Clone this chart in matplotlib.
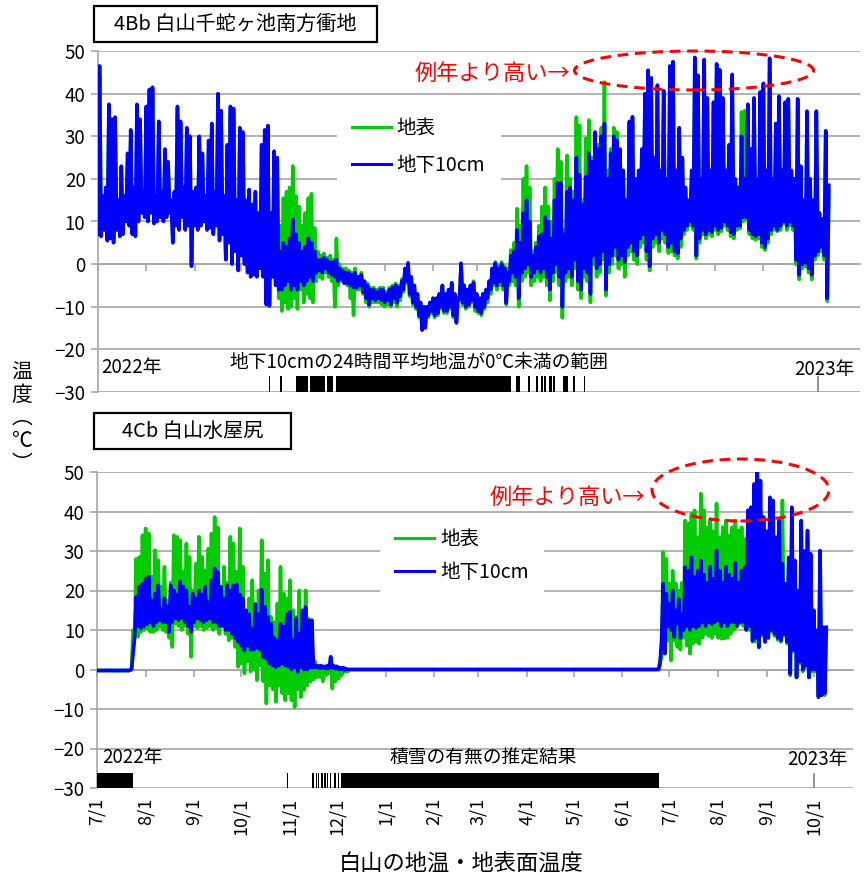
import numpy as np
import matplotlib
matplotlib.use('Agg')
import matplotlib.pyplot as plt
from matplotlib.patches import Ellipse, Rectangle
from matplotlib.lines import Line2D

plt.rcParams['font.family'] = ['Noto Sans CJK JP', 'DejaVu Sans']

W, H = 864, 876
START = np.datetime64('2022-07-01')

# month ticks (x axis, days from 2022-07-01)
month_dates = np.array(['2022-07-01', '2022-08-01', '2022-09-01', '2022-10-01', '2022-11-01',
                        '2022-12-01', '2023-01-01', '2023-02-01', '2023-03-01', '2023-04-01',
                        '2023-05-01', '2023-06-01', '2023-07-01', '2023-08-01', '2023-09-01',
                        '2023-10-01'], dtype='datetime64[D]')
month_labels = ['7/1', '8/1', '9/1', '10/1', '11/1', '12/1', '1/1', '2/1', '3/1', '4/1',
                '5/1', '6/1', '7/1', '8/1', '9/1', '10/1']
yticks = [-30, -20, -10, 0, 10, 20, 30, 40, 50]

# ---- 4Bb: daily low (even day) / high (odd day) pairs, 2-day steps ----
top_sub10_hi = [
    46.5, 16, 18, 37.5, 34, 34.5, 15, 23, 16, 26,
    31.5, 18, 37.5, 34, 17, 37, 41, 41.5, 16, 33.5,
    17, 27, 24, 15, 17, 37, 33.5, 18, 32, 30,
    17, 18, 30, 26, 16, 29, 33, 17, 40, 36,
    16, 28, 37, 36.5, 15, 32, 31, 15, 17.5, 14,
    17, 12, 28, 31.5, 32.5, 12, 26.5, 25, 3, 5,
    4, 6, 10.5, 7, 5, 3, 4, 6, 5, 3,
    1, 1, 1.5, 1, 0.5, 0.5, 1, -1, -1.5, -2,
    -2, -2.5, -2, -3, -2.5, -4, -5, -6, -6, -6.5,
    -6, -6, -7, -6, -5.5, -5, -5.5, -4, -1, 0.3,
    -3, -5, -7, -9, -10, -10, -9, -8, -8, -7,
    -5, -7, -6, -4.4, -7, -8, 0.2, -5, -6, -5,
    -4.4, -7, -8, -7, -6, -4, -1, 0.2, -1, 0,
    -1, -2, 2, 3, 8, 5, 12, 15, 10, 2,
    4, 6.5, 7, 11, 10, 6, 15, 19, 19, 7,
    17, 18, 15, 25, 21, 14, 20.5, 26, 24, 31,
    27, 30, 33, 20, 26, 30, 29, 27, 22, 15,
    33.5, 34.6, 20, 22, 27, 40, 45.5, 43.7, 25, 42,
    22, 40.7, 20, 46.5, 47.5, 22, 32, 25, 18, 15,
    22, 48.5, 44.3, 20, 48, 39, 22, 38, 47, 45.6,
    39, 22, 28, 44.5, 20, 18, 30, 20, 37.5, 27,
    39, 20, 40.4, 42.4, 22, 48.3, 20, 33, 39.4, 22,
    38, 38.8, 22, 20, 38.8, 23, 15, 35.9, 20, 15,
    35.9, 12, 10.6, 31.3, 18.5]
top_sub10_lo = [
    7, 6.5, 8, 5.5, 6, 5, 8, 6.5, 7, 10,
    9, 7, 6.5, 10, 12, 11, 10, 12, 9.5, 10,
    11, 10, 11, 12, 5, 9, 8, 11, 8, 9,
    -0.5, 9, 8, 9, 10, 8, 8.5, 7, 9, 5.5,
    7, 1, 5, 0, 3, -1.5, 2, 0, -2, -3,
    -2.5, -3, -1, -3, -9.5, -9.8, -3, -5, -6, -6,
    -5, -4, -6, -5, -6, -4, -5, -4, -3, -4,
    -2, -1.5, -2, -1, -2, -2.5, -3, -4, -3.5, -4.5,
    -4.5, -5, -5.5, -5.5, -5, -6.5, -8, -9.5, -8, -8.5,
    -8, -8.5, -9, -8.5, -9.5, -8, -9, -7.5, -6, -4,
    -7, -9, -10, -12, -15.5, -15, -12, -11, -12, -11.5,
    -10, -11, -11, -10, -12, -13.8, -8, -9, -10, -9.5,
    -8.5, -10, -11, -11.5, -10, -8, -6, -4.4, -5, -4,
    -5, -9.1, -4, -2, -3, -8, -2, -1, 0, -3,
    -2, -1, -2, -1, -3, -6, -2, 0, -3, -10,
    -2, -1, -3, 1, -4, -6, -1, -2, -7, 2,
    -1, 0, 3, -6, 0, 2, 4, 1, 2, 0.5,
    4, 5, 3, 2, 6, 7, 3, -0.5, 6, 7,
    5, 8, 7, 4, 5, 3, 2.5, 6, 8, 9,
    10, 9, 2, 6, 8, 7, 8, 7.5, 9, 8,
    8.5, 10, 9, 7.5, 7, 9, 9, 11, 11, 8,
    7, 6.5, 7, 5, 4, 6, 8, 9, 8, 9,
    10, 9, 10, 9, 1, -2.5, 0, 0.3, -1, -2.5,
    2, 3, 4, 2, -8]
top_surf_hi = [
    44, 15, 17, 35, 32, 32, 14, 21, 15, 24,
    29, 17, 35, 32, 16, 35, 39, 39, 15, 31,
    16, 25, 22, 14, 16, 35, 31, 17, 30, 28,
    16, 17, 28, 24, 15, 27, 31, 16, 38, 34,
    15, 26, 35, 34, 14, 30, 29, 14, 16, 13,
    15, 11, 26, 29, 30, 11, 24, 23, 9, 15.5,
    17, 18, 23, 16, 13.5, 9, 12, 15.5, 16.5, 8.5,
    3, 2, 2.5, 1.5, 2, 1, 6, 0, -1, -1,
    -1.5, -2, -1, -3, -2, -4, -4.5, -5.5, -5.5, -6,
    -5.5, -5.5, -6.5, -5.5, -5, -4.5, -5, -3.5, -1.5, 0,
    -3, -5, -7, -9, -10, -10, -9, -8, -8, -7,
    -5, -7, -6, -4.4, -7, -8, 0, -5, -6, -5,
    -4, -7, -8, -7, -6, -4, -1, 0.5, -0.5, 0.5,
    -0.5, -1, 3.3, 5, 13, 9, 20, 23, 18, 3,
    5, 9, 13.5, 18, 13.5, 10, 20, 27, 24, 8,
    25.5, 20, 17, 34.5, 32.5, 15, 29.5, 33.8, 25, 30,
    28, 32, 42.7, 22, 27, 32, 31, 26, 22, 14,
    32, 33, 19, 21, 26, 38, 42, 40, 24, 39,
    21, 38, 19, 44, 45, 21, 30, 24, 17, 14,
    21, 45, 42, 19, 45, 37, 21, 36, 44, 43,
    37, 21, 27, 42, 19, 17, 35.7, 36, 36, 26,
    37, 19, 38, 40, 21, 45, 19, 32, 37, 21,
    36, 37, 21, 19, 37, 22, 14, 34, 19, 14,
    34, 11, 10, 30, 17]
top_surf_lo = [
    8, 7.5, 9, 6.5, 7, 6, 9, 7.5, 8, 11,
    10, 8, 7.5, 11, 13, 12, 11, 13, 10.5, 11,
    12, 11, 12, 13, 6, 10, 9, 12, 9, 10,
    0.5, 10, 9, 10, 11, 9, 9.5, 8, 10, 6.5,
    8, 2, 6, 1, 4, -0.5, 3, 1, -1, -2,
    -1.5, -2, 0, -2, -8.5, -8.8, -2, -4, -8, -11,
    -9, -10.5, -10, -8, -10.5, -6, -9, -7, -8, -9,
    -4, -3, -3.5, -2, -3, -4, -10, -5, -4, -4,
    -5, -8, -12, -6, -6, -7, -9, -10, -9, -9,
    -9, -9.5, -10, -9.5, -10, -9, -10, -8.5, -6.5, -4.5,
    -7.5, -9.5, -10.5, -12.5, -15, -14.5, -12.5, -11.5, -12.5, -12,
    -10.5, -11.5, -11.5, -10.5, -12.5, -13.5, -8.5, -9.5, -10.5, -10,
    -9, -11, -11.5, -12, -10.5, -9, -7, -5, -6, -5,
    -6, -9.5, -5, -4, -5, -10, -4, -3, -2, -5,
    -4, -3, -4, -3, -5, -8.5, -4, -2, -5, -12.6,
    -4, -3, -5, -1, -6, -8, -3, -4, -9, 0,
    -3, -2, 1, -7.4, -2, 0, 2, -1, 0, -3,
    2, 3, 1, 0, 4, 5, 1, -1.5, 4, 5,
    3, 6, 5, 2.6, 3, 2, 1.3, 4, 7, 8,
    9, 8, 1.3, 5, 7, 6, 7, 6.5, 8, 7,
    7.7, 9, 8, 6.5, 6, 8, 8.4, 10, 10.5, 7,
    6, 5.7, 6, 4, 3.3, 5, 7, 8, 7.7, 8,
    9.6, 8, 9, 8, 0, -3.6, -1, -0.5, -2, -3.6,
    1, 2, 3, 1, -8.7]

# ---- 4Cb ----
bot_sub10_hi = [
    -0.2, -0.2, -0.2, -0.2, -0.2, -0.2, -0.2, -0.2, -0.2, -0.2,
    -0.2, 4, 18.4, 21, 21.7, 23, 23.5, 17.5, 19.2, 21.3,
    15, 18, 16, 21.3, 20, 19, 22.2, 21, 20, 15.9,
    19.2, 18, 20, 19, 21, 17, 22.6, 25.6, 24.7, 20.9,
    18, 21.3, 20, 21.3, 21.5, 19, 18, 15, 14, 10.3,
    16.6, 14, 20.2, 15.9, 13.3, 11.6, 8, 7.4, 11.6, 10.8,
    14, 14.6, 7.4, 13, 9.1, 15, 15.8, 12.4, 12.5, 1,
    1, 1, 0.8, 1, 3.2, 1, 0.8, 0.5, 0.5, 0.2,
    0, 0, 0, 0, 0, 0, 0, 0, 0, 0,
    0, 0, 0, 0, 0, 0, 0, 0, 0, 0,
    0, 0, 0, 0, 0, 0, 0, 0, 0, 0,
    0, 0, 0, 0, 0, 0, 0, 0, 0, 0,
    0, 0, 0, 0, 0, 0, 0, 0, 0, 0,
    0, 0, 0, 0, 0, 0, 0, 0, 0, 0,
    0, 0, 0, 0, 0, 0, 0, 0, 0, 0,
    0, 0, 0, 0, 0, 0, 0, 0, 0, 0,
    0, 0, 0, 0, 0, 0, 0, 0, 0, 0,
    0, 0, 0, 0, 0, 0, 0, 0, 0, 1.4,
    21.7, 19.2, 16.6, 20, 15, 17.8, 14, 25.9, 25, 28.4,
    23.4, 25, 27.6, 24, 22, 26, 23, 30.1, 25, 22,
    26, 24, 23, 27, 22, 25, 26, 40.3, 41.1, 47,
    52.9, 47.8, 38.6, 35, 43.6, 42.8, 33.5, 37.7, 26.8, 21.7,
    28.4, 41.1, 27.6, 20, 37.7, 30, 35.2, 29.3, 15, 9.9,
    30.1, 10.7, 10.7]
bot_sub10_lo = [
    -0.3, -0.3, -0.3, -0.3, -0.3, -0.3, -0.3, -0.3, -0.3, -0.3,
    -0.3, 0, 8, 11, 10.5, 11, 11.5, 12, 11, 12,
    12.5, 12, 12, 9.5, 12, 13, 12.5, 13, 12, 11,
    9.5, 12, 13, 12.5, 12, 12.5, 13, 12, 12, 11,
    11, 10, 10, 9, 8, 7, 6, 4.8, 6, 5,
    5, 5.5, 5, 3.2, 2.7, 1.5, 1, 0.6, 1, 1.5,
    1, 0.7, 0, 0.5, -0.6, 0.6, 0, 0, 0.5, 0.5,
    0.5, 0.3, 0.4, 0.2, 0.3, 0.4, 0.2, 0, 0, -0.1,
    0, 0, 0, 0, 0, 0, 0, 0, 0, 0,
    0, 0, 0, 0, 0, 0, 0, 0, 0, 0,
    0, 0, 0, 0, 0, 0, 0, 0, 0, 0,
    0, 0, 0, 0, 0, 0, 0, 0, 0, 0,
    0, 0, 0, 0, 0, 0, 0, 0, 0, 0,
    0, 0, 0, 0, 0, 0, 0, 0, 0, 0,
    0, 0, 0, 0, 0, 0, 0, 0, 0, 0,
    0, 0, 0, 0, 0, 0, 0, 0, 0, 0,
    0, 0, 0, 0, 0, 0, 0, 0, 0, 0,
    0, 0, 0, 0, 0, 0, 0, 0, 0, 0,
    8, 4, 11, 10, 8.2, 11.6, 8, 10, 11, 10,
    11, 10.5, 11, 12, 11, 12, 11.5, 12, 12.4, 11,
    12, 11, 12, 12, 11, 12, 12, 10, 11, 7.3,
    8, 5.7, 9, 7, 8, 10, 9, 8, 7.3, 9,
    7, -1.1, 5, -2, 2, 0, 1, -2, 0, 0,
    -7, -6.5, -6]
bot_surf_hi = [
    -0.2, -0.2, -0.2, -0.2, -0.2, -0.2, -0.2, -0.2, -0.2, -0.2,
    -0.2, 10, 28, 28.5, 34, 35.7, 34.4, 23.5, 30.2, 27.7,
    21, 26, 17.5, 22, 34, 33.6, 32.7, 24.7, 31.9, 28.5,
    20, 26.8, 33.6, 28.5, 25, 30.6, 34.4, 38.6, 36, 21,
    26, 22, 33.6, 31.9, 24.7, 35.7, 26, 12.5, 18, 22.6,
    14.2, 20, 32.7, 24.3, 27.7, 13.3, 12, 16.7, 26, 19.2,
    18, 22.6, 15, 13.3, 20, 13, 20, 12.9, 6.5, 2,
    1, 0.5, 0, 1, 3.2, 0, -0.5, 0, 0, 0,
    0, 0, 0, 0, 0, 0, 0, 0, 0, 0,
    0, 0, 0, 0, 0, 0, 0, 0, 0, 0,
    0, 0, 0, 0, 0, 0, 0, 0, 0, 0,
    0, 0, 0, 0, 0, 0, 0, 0, 0, 0,
    0, 0, 0, 0, 0, 0, 0, 0, 0, 0,
    0, 0, 0, 0, 0, 0, 0, 0, 0, 0,
    0, 0, 0, 0, 0, 0, 0, 0, 0, 0,
    0, 0, 0, 0, 0, 0, 0, 0, 0, 0,
    0, 0, 0, 0, 0, 0, 0, 0, 0, 0,
    0, 0, 0, 0, 0, 0, 0, 0, 0, 2.7,
    29.7, 28, 21.7, 25, 21.8, 20, 22, 37.7, 36.9, 39.4,
    40.3, 33.5, 44.5, 40.3, 36, 38, 35, 42, 33.5, 36,
    37.7, 34, 36, 37.7, 35.2, 36, 33, 30, 28, 30,
    38, 40.7, 37, 33, 39, 38, 32, 35, 42.8, 20,
    27, 38, 26, 19, 35, 28, 33, 28, 14, 9,
    29, 10, 10]
bot_surf_lo = [
    -0.3, -0.3, -0.3, -0.3, -0.3, -0.3, -0.3, -0.3, -0.3, -0.3,
    -0.3, 0, 9, 8.3, 9.5, 10, 10.4, 9.5, 9.5, 10,
    10.8, 10, 9.5, 8, 5.7, 11.6, 11, 10, 11, 9,
    3.2, 11, 10.5, 11, 10, 10.5, 11, 10, 10.5, 9,
    11, 9, 7.4, 8, 5.7, 0.7, 1.5, -1, 2, -0.5,
    0, -2.7, 1, -3, -8.6, -4, -5, -8.2, -4, -6,
    -7.8, -6, -7.8, -9.5, -5, -7, -5.2, -4, -3.1, -2.5,
    -2, -1.9, -3, -1.5, -1, -4.8, -3, -2.3, -1.5, -0.6,
    -0.5, 0, 0, 0, 0, 0, 0, 0, 0, 0,
    0, 0, 0, 0, 0, 0, 0, 0, 0, 0,
    0, 0, 0, 0, 0, 0, 0, 0, 0, 0,
    0, 0, 0, 0, 0, 0, 0, 0, 0, 0,
    0, 0, 0, 0, 0, 0, 0, 0, 0, 0,
    0, 0, 0, 0, 0, 0, 0, 0, 0, 0,
    0, 0, 0, 0, 0, 0, 0, 0, 0, 0,
    0, 0, 0, 0, 0, 0, 0, 0, 0, 0,
    0, 0, 0, 0, 0, 0, 0, 0, 0, 0,
    0, 0, 0, 0, 0, 0, 0, 0, 0, 0,
    2.7, 5, 7.3, 2.3, 7.3, 5.7, 5, 8, 6, 4,
    6.5, 7, 6.5, 8, 9, 8.5, 8, 9, 8, 7.8,
    7.8, 8, 9, 10, 10.7, 11.6, 11, 10, 10, 7,
    7, 5.5, 8.5, 7, 8, 9.5, 8.5, 7.5, 7, 8.5,
    6.5, -1.5, 4.5, -2, 1.5, -0.5, 0.5, -2, -0.5, -0.5,
    -7, -6.5, -6.5]

# black range bars (start day, length in days)
top_freeze_bars = [(109.5, 1), (117, 0.8), (126.8, 7.9), (135.8, 3.2), (139.5, 6.2),
                   (147, 3.8), (152.5, 45.5), (198.5, 66.5), (268.4, 2.6), (276, 1.2),
                   (281, 1.2), (284.5, 1), (286.5, 1), (289.6, 1.5), (292, 1), (298.3, 3.2),
                   (304.7, 1.5), (312, 0.8)]
bot_snow_bars = [(0, 23.2), (121.3, 0.4), (136.8, 0.6), (138, 0.6), (139.5, 0.8), (141, 0.5),
                 (142.5, 1.5), (145, 0.8), (146.5, 1), (148.5, 0.4), (151, 1.5), (153.5, 1),
                 (155.5, 203)]
year_mark_top = 462
year_mark_bot = 457

GREEN = '#00cc00'
BLUE = '#0000ff'
GRID = '#a6a6a6'
LW = 2.6


def spikes(lo, hi):
    assert len(lo) == len(hi)
    y = np.column_stack([lo, hi]).ravel()
    return np.arange(len(y)), y


def px(x, y):
    return x / W, 1 - y / H


month_days = (month_dates - START).astype(int)

fig = plt.figure(figsize=(W / 100, H / 100), dpi=100)
ax1 = fig.add_axes([98 / W, 1 - 392 / H, 762 / W, 341 / H])
ax2 = fig.add_axes([97 / W, 1 - 788 / H, 756 / W, 316 / H])


def style_axis(ax, xmax):
    ax.set_xlim(0, xmax)
    ax.set_ylim(-30, 50)
    ax.set_yticks(yticks)
    ax.grid(axis='y', color=GRID, lw=1.2)
    ax.set_axisbelow(True)
    for s in ['top', 'right']:
        ax.spines[s].set_visible(False)
    ax.spines['left'].set_color(GRID)
    ax.spines['left'].set_linewidth(1.2)
    ax.spines['bottom'].set_position(('data', 0))
    ax.spines['bottom'].set_color(GRID)
    ax.spines['bottom'].set_linewidth(1.2)
    ax.set_xticks(month_days)
    ax.tick_params(axis='x', direction='out', length=5, color=GRID, width=1.2, labelbottom=False)
    ax.tick_params(axis='y', direction='out', length=5, color=GRID, width=1.2, labelsize=13.5, pad=4)


style_axis(ax1, 489)
style_axis(ax2, 482)

x, y = spikes(top_surf_lo, top_surf_hi)
ax1.plot(x, y, color=GREEN, lw=LW, zorder=3)
x, y = spikes(top_sub10_lo, top_sub10_hi)
ax1.plot(x, y, color=BLUE, lw=LW, zorder=4)
x, y = spikes(bot_surf_lo, bot_surf_hi)
ax2.plot(x, y, color=GREEN, lw=LW, zorder=3)
x, y = spikes(bot_sub10_lo, bot_sub10_hi)
ax2.plot(x, y, color=BLUE, lw=LW, zorder=4)

ax1.broken_barh(top_freeze_bars, (-30, 3.8), facecolors='black', zorder=5)
ax2.broken_barh(bot_snow_bars, (-30, 3.8), facecolors='black', zorder=5)
ax1.axvline(year_mark_top, ymin=0, ymax=3.6 / 80, color='#7f7f7f', lw=1.2)
ax2.axvline(year_mark_bot, ymin=0, ymax=3.6 / 80, color='#7f7f7f', lw=1.2)

sec = ax2.secondary_xaxis(0)
sec.set_xticks(month_days, labels=month_labels)
sec.tick_params(length=0, labelsize=13, pad=7, rotation=90)
sec.spines['bottom'].set_visible(False)

handles = [Line2D([], [], color=GREEN, lw=2.2), Line2D([], [], color=BLUE, lw=2.2)]
leg_kw = dict(loc='upper left', frameon=True, facecolor='white', edgecolor='none', framealpha=1,
              fancybox=False, fontsize=14, handlelength=2.0, handletextpad=0.3,
              borderpad=0.8, borderaxespad=0)
ax1.legend(handles, ['地表', '地下10cm'], bbox_to_anchor=(0.313, 0.85), labelspacing=0.85, **leg_kw)
ax2.legend(handles, ['地表', '地下10cm'], bbox_to_anchor=(0.374, 0.869), labelspacing=0.6, **leg_kw)

# title boxes
for (x0, y0, x1, y1), label in [((94, 6, 377, 42), '4Bb 白山千蛇ヶ池南方衝地'),
                                 ((94, 413, 291, 449), '4Cb 白山水屋尻')]:
    fig.add_artist(Rectangle(px(x0, y1), (x1 - x0) / W, (y1 - y0) / H, transform=fig.transFigure,
                             fill=False, ec='black', lw=1.6))
    fig.text(*px((x0 + x1) / 2, (y0 + y1) / 2), label, ha='center', va='center', fontsize=14.5)

# bar captions and years
fig.text(*px(419, 362), '地下10cmの24時間平均地温が0℃未満の範囲', ha='center', va='center', fontsize=13.5)
fig.text(*px(483, 758), '積雪の有無の推定結果', ha='center', va='center', fontsize=13.5)
fig.text(*px(101, 368), '2022年', ha='left', va='center', fontsize=13.5)
fig.text(*px(794, 369), '2023年', ha='left', va='center', fontsize=13.5)
fig.text(*px(102, 758), '2022年', ha='left', va='center', fontsize=13.5)
fig.text(*px(787, 760), '2023年', ha='left', va='center', fontsize=13.5)

# red annotations
for (tx, ty), (ex, ey, ew, eh) in [((415, 73), (694, 70.5, 239, 39)),
                                   ((490, 497), (740.5, 490, 177, 62))]:
    fig.text(*px(tx, ty), '例年より高い→', color='red', ha='left', va='center', fontsize=16)
    fig.add_artist(Ellipse(px(ex, ey), ew / W, eh / H, transform=fig.transFigure, fill=False,
                           ec='red', lw=2.2, ls=(0, (3.5, 2.2)), zorder=10))

# axis titles
fig.text(*px(22, 418), '温\n度\n︵\n℃\n︶', ha='center', va='center', fontsize=15, linespacing=1.05)
fig.text(*px(461, 864), '白山の地温・地表面温度', ha='center', va='center', fontsize=16)

fig.savefig('out.png', dpi=100)
